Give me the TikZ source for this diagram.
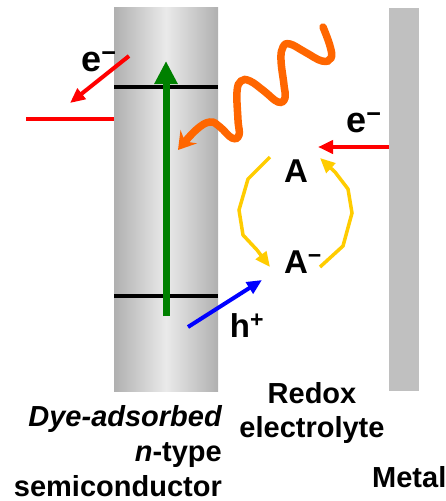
\documentclass[tikz,border=0pt]{standalone}
\usepackage{fontspec}
\setmainfont{Liberation Sans}
\usepackage{tikz}
\usetikzlibrary{arrows.meta}
\definecolor{barDark}{RGB}{176,176,176}
\definecolor{barLight}{RGB}{234,234,234}
\definecolor{metalGray}{RGB}{192,192,192}
\definecolor{dyeGreen}{RGB}{0,128,0}
\definecolor{lightOrange}{RGB}{255,102,0}
\definecolor{redoxYellow}{RGB}{255,204,0}

\begin{document}
\begin{tikzpicture}[x=1pt, y=-1pt,
    lbl/.style={font=\bfseries\fontsize{33}{36}\selectfont, inner sep=0pt},
    caption/.style={font=\bfseries\fontsize{29}{35}\selectfont, inner sep=0pt},
    level/.style={line width=4.5pt},
    tri/.style={-{Triangle[length=15pt, width=13pt]}}]
      \useasboundingbox (0,0) rectangle (446,501);

      % Semiconductor and metal bars
      \shade[left color=barDark, right color=barDark, middle color=barLight]
        (114,7) rectangle (218,391);
      \fill[metalGray] (389,8) rectangle (419,391);

      % Energy levels of the dye
      \draw[level] (114,87) -- (218,87);
      \draw[level] (114,296) -- (218,296);
      \draw[red, level] (26,119) -- (114,119);

      % Excitation
      \coordinate (exLow) at (166,316);
      \coordinate (exHigh) at (166,61);
      \draw[dyeGreen, line width=7pt, -{Triangle[length=23pt, width=22pt]}]
        (exLow) -- (exHigh);

      % Incoming light
      \draw[lightOrange, line width=7.5pt, line cap=round,
            -{Stealth[length=17pt, width=21pt, inset=6pt]}]
        plot[smooth, tension=0.7] coordinates {(323,27) (330,46) (331,58)
          (322,61) (305,52) (290,44) (283,47) (281,60) (284,85) (285,98)
          (278,102) (264,91) (250,81) (241,81) (237,92) (238,120) (239,135)
          (232,138) (220,127) (210,122) (196,130) (178,150)};

      % Labels
      \node[lbl, font=\bfseries\fontsize{36}{40}\selectfont, anchor=base] (eOut) at (99,71) {e\textsuperscript{−}};
      \node[lbl, font=\bfseries\fontsize{36}{40}\selectfont, anchor=base] (eIn) at (364,132) {e\textsuperscript{−}};
      \node[lbl, anchor=base] (ox) at (296,182) {A};
      \node[lbl, anchor=base] (red) at (303,273) {A\textsuperscript{−}};
      \node[lbl, anchor=base] (hole) at (247,337) {h\textsuperscript{+}};

      % Electron and hole transfer
      \coordinate (eOutStart) at (129,56);
      \coordinate (eOutEnd) at (70,103);
      \draw[red, line width=4pt, tri] (eOutStart) -- (eOutEnd);
      \coordinate (eInStart) at (389,147);
      \coordinate (eInEnd) at (318,147);
      \draw[red, line width=4pt, tri] (eInStart) -- (eInEnd);
      \coordinate (holeStart) at (188,327);
      \coordinate (holeEnd) at (262,280);
      \draw[blue, line width=4pt, tri] (holeStart) -- (holeEnd);

      % Redox cycle
      \coordinate (cycL) at (270,157);
      \coordinate (cycLEnd) at (270,267);
      \draw[redoxYellow, line width=3.5pt, tri]
        (cycL) -- (248,179) -- (239,210) -- (243,235) -- (257,250) -- (cycLEnd);
      \coordinate (cycR) at (320,267);
      \coordinate (cycREnd) at (320,158);
      \draw[redoxYellow, line width=3.5pt, tri]
        (cycR) -- (343,246) -- (352,213) -- (348,189) -- (335,172) -- (cycREnd);

      % Captions
      \node[caption, anchor=base east] (scA) at (222,426) {\itshape Dye-adsorbed};
      \node[caption, anchor=base east] (scB) at (222,461) {\textit{n}-type};
      \node[caption, anchor=base east] (scC) at (222,496) {semiconductor};
      \node[caption, anchor=base] (elA) at (312,403) {Redox};
      \node[caption, anchor=base] (elB) at (312,437) {electrolyte};
      \node[caption, anchor=base west] (metal) at (372,487) {Metal};
    \end{tikzpicture}
\end{document}
